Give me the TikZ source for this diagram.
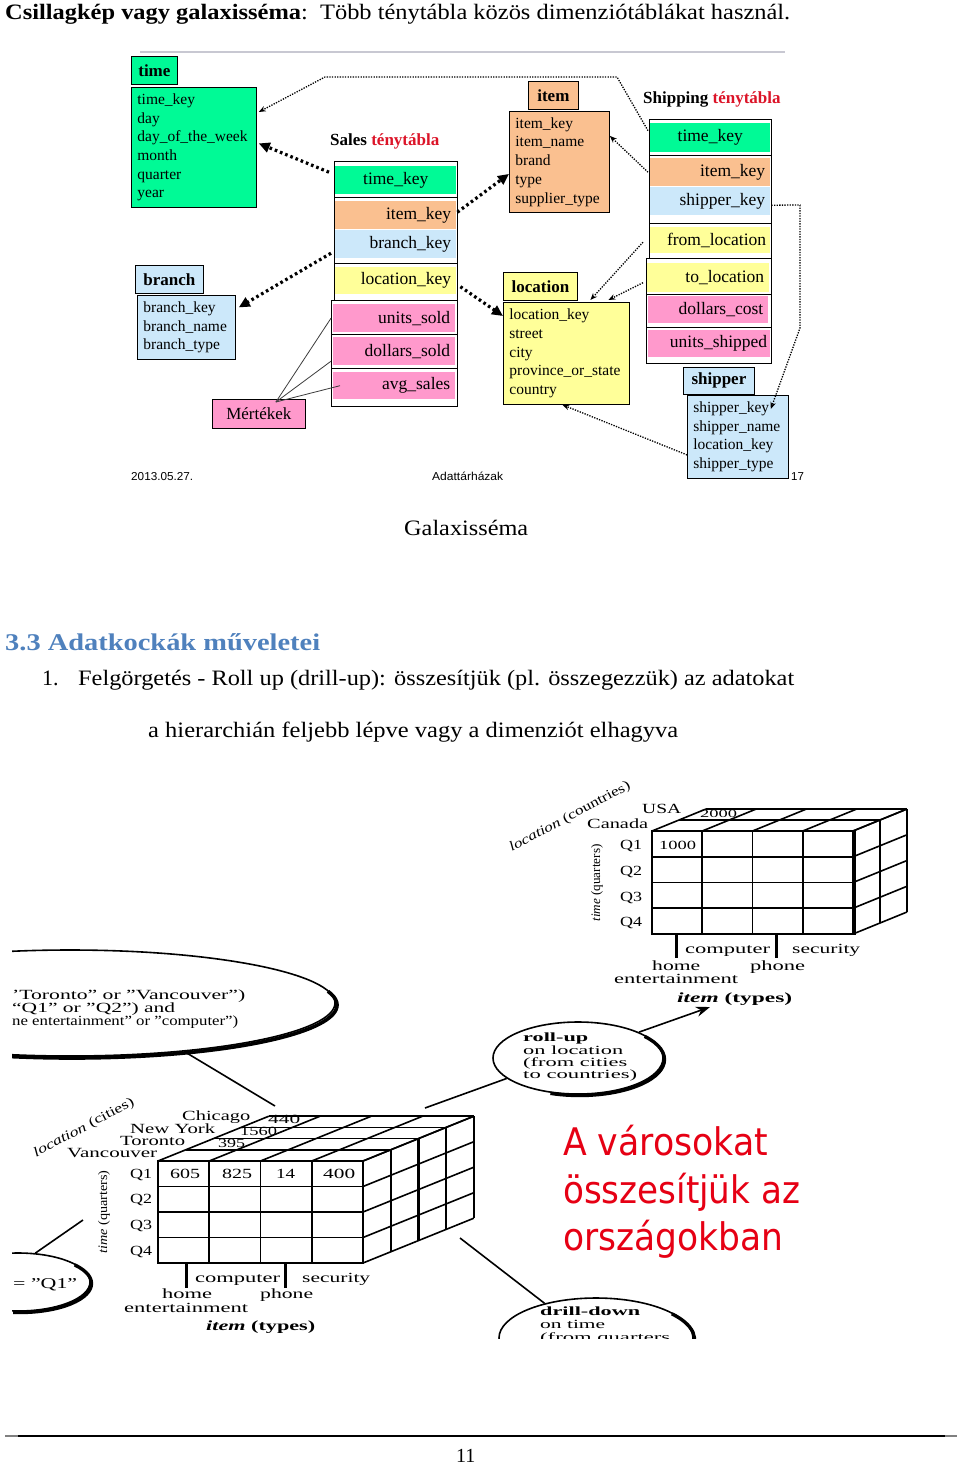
\documentclass[tikz,border=0pt]{standalone}
\usepackage{fontspec}
\usepackage{graphicx}
\usetikzlibrary{arrows.meta,calc,shapes.geometric}
\setmainfont{Liberation Serif}
\newfontfamily\sansf{Liberation Sans}
\newfontfamily\redf{DejaVu Sans}
\newcommand\fitw[2]{\resizebox{#1}{\height}{#2}}
\newcommand\myfs[1]{\fontsize{#1}{#1}\selectfont}
\definecolor{cgreen}{RGB}{0,250,150}
\definecolor{corange}{RGB}{250,192,144}
\definecolor{cblue}{RGB}{204,232,250}
\definecolor{cyellow}{RGB}{255,255,153}
\definecolor{cpink}{RGB}{255,153,204}
\definecolor{tred}{RGB}{220,20,40}
\definecolor{hblue}{RGB}{79,129,189}
\definecolor{bigred}{RGB}{230,0,20}
\definecolor{framegray}{RGB}{200,200,210}
\definecolor{mgray}{RGB}{60,60,60}
\newcommand\cubelbl[5]{\node[cubetx] (#1) at (#2,#3) {\fitw{#4pt}{#5}};}
\tikzset{
 tx/.style={inner sep=0pt, anchor=base west},
 hdr/.style={draw=black, line width=0.8pt, inner sep=0pt, anchor=north west, font=\fontsize{17}{20}\selectfont\bfseries},
 tbl/.style={draw=black, line width=0.8pt, inner xsep=6pt, inner ysep=0pt, anchor=north west, align=left, font=\fontsize{15.5}{18.7}\selectfont},
 rowr/.style={fill=#1, inner xsep=5pt, inner ysep=0pt, anchor=north west, align=right, font=\fontsize{17.5}{20}\selectfont},
 frm/.style={draw=black, line width=0.9pt, fill=white},
 thickdot/.style={line width=3.2pt, dash pattern=on 2.6pt off 3pt, -{Triangle[length=11pt,width=10pt]}},
 thindot/.style={line width=1.3pt, dash pattern=on 1.3pt off 1.3pt, -{Stealth[length=7pt,width=5.5pt]}},
 mline/.style={line width=0.8pt, draw=mgray},
 cl/.style={line width=1.6pt},
 bub/.style={ellipse, draw, line width=1.6pt, inner sep=0pt},
 cubetx/.style={inner sep=0pt, anchor=base west, font=\fontsize{14}{16}\selectfont},
 bubtx/.style={inner sep=0pt, anchor=base west, font=\fontsize{12.5}{14}\selectfont},
}
\begin{document}
\begin{tikzpicture}[x=1pt,y=-1pt]
\useasboundingbox (0,0) rectangle (960,1465);
\fill[white] (0,0) rectangle (960,1465);

% ---------- title line
\node[tx] (title) at (5,19) {\myfs{22}\fitw{785pt}{\textbf{Csillagkép vagy galaxisséma}:\ \ Több ténytábla közös dimenziótáblákat használ.}};

% ---------- schema
\draw[framegray, line width=1.2pt] (140,52) -- (785,52);

% time
\node[hdr, fill=cgreen, minimum width=46pt, minimum height=28pt] (thdr) at (131,56) {time};
\node[tbl, fill=cgreen, minimum width=125pt, minimum height=120pt, text width=113pt] (tbody) at (131,87)
 {time\_key\\day\\day\_of\_the\_week\\month\\quarter\\year};
% branch
\node[hdr, fill=cblue, minimum width=68pt, minimum height=28pt] (bhdr) at (135,265) {branch};
\node[tbl, fill=cblue, minimum width=98pt, minimum height=64pt, text width=86pt] (brbody) at (137,295)
 {branch\_key\\branch\_name\\branch\_type};
% item
\node[hdr, fill=corange, minimum width=50pt, minimum height=28pt] (ihdr) at (528,81) {item};
\node[tbl, fill=corange, minimum width=100pt, minimum height=101pt, text width=88pt] (ibody) at (509,111)
 {item\_key\\item\_name\\brand\\type\\supplier\_type};
% location
\node[hdr, fill=cyellow, minimum width=74pt, minimum height=28pt] (lhdr) at (503,272) {location};
\node[tbl, fill=cyellow, minimum width=126pt, minimum height=102pt, text width=114pt] (lbody) at (503,302)
 {location\_key\\street\\city\\province\_or\_state\\country};
% shipper
\node[hdr, fill=cblue, minimum width=71pt, minimum height=27pt] (shhdr) at (683,367) {shipper};
\node[tbl, fill=cblue, minimum width=101pt, minimum height=83pt, text width=89pt] (shbody) at (687,395)
 {shipper\_key\\shipper\_name\\location\_key\\shipper\_type};

% Sales fact table
\node[tx] (saleslbl) at (330,145) {\fontsize{17}{20}\selectfont\bfseries Sales \textcolor{tred}{ténytábla}};
\draw[frm] (334,161) rectangle (457,197);
\draw[frm] (334,197) rectangle (457,263);
\draw[frm] (334,263) rectangle (457,300);
\draw[frm] (331,300) rectangle (457,334);
\draw[frm] (331,334) rectangle (457,368);
\draw[frm] (331,368) rectangle (457,406);
\node[rowr=cgreen, minimum width=121pt, minimum height=28pt, text width=111pt, align=center] (stime) at (335,166) {time\_key};
\node[rowr=corange, minimum width=121pt, minimum height=28pt, text width=111pt] (sitem) at (335,201) {item\_key};
\node[rowr=cblue, minimum width=121pt, minimum height=28pt, text width=111pt] (sbranch) at (335,230) {branch\_key};
\node[rowr=cyellow, minimum width=121pt, minimum height=27pt, text width=111pt] (sloc) at (335,267) {location\_key};
\node[rowr=cpink, minimum width=122pt, minimum height=28pt, text width=112pt] (sunits) at (333,304) {units\_sold};
\node[rowr=cpink, minimum width=122pt, minimum height=28pt, text width=112pt] (sdollars) at (333,337) {dollars\_sold};
\node[rowr=cpink, minimum width=122pt, minimum height=27pt, text width=112pt] (savg) at (333,372) {avg\_sales};

% Shipping fact table
\node[tx] (shiplbl) at (643,103) {\fontsize{17}{20}\selectfont\bfseries Shipping \textcolor{tred}{ténytábla}};
\draw[frm] (649,119) rectangle (771,155);
\draw[frm] (649,155) rectangle (771,223);
\draw[frm] (649,223) rectangle (771,258);
\draw[frm] (646,258) rectangle (771,294);
\draw[frm] (646,294) rectangle (771,327);
\draw[frm] (646,327) rectangle (771,363);
\node[rowr=cgreen, minimum width=120pt, minimum height=29pt, text width=110pt, align=center] (sptime) at (650,123) {time\_key};
\node[rowr=corange, minimum width=120pt, minimum height=28pt, text width=110pt] (spitem) at (650,158) {item\_key};
\node[rowr=cblue, minimum width=120pt, minimum height=28pt, text width=110pt] (spship) at (650,187) {shipper\_key};
\node[rowr=cyellow, minimum width=120pt, minimum height=26pt, text width=112pt, inner xsep=4pt] (spfrom) at (650,227) {from\_location};
\node[rowr=cyellow, minimum width=122pt, minimum height=29pt, text width=112pt] (spto) at (647,263) {to\_location};
\node[rowr=cpink, minimum width=120pt, minimum height=27pt, text width=110pt] (spcost) at (648,296) {dollars\_cost};
\node[rowr=cpink, minimum width=122pt, minimum height=27pt, text width=116pt, inner xsep=3pt] (spunits) at (648,330) {units\_shipped};

% Mertekek
\node[draw=black, line width=0.8pt, fill=cpink, anchor=north west, minimum width=93pt, minimum height=29pt, inner sep=0pt, font=\fontsize{17}{20}\selectfont] (mert) at (212,399) {Mértékek};
\coordinate (mk) at ($(mert.north)+(17,3)$);
\draw[mline] (mk) -- ($(sunits.west)+(-2,0)$);
\draw[mline] (mk) -- ($(sdollars.west)+(-2,10)$);
\draw[mline] (mk) -- ($(savg.west)+(7,0)$);

% connectors
\coordinate (w1) at (617,77);
\coordinate (w2) at (325,77);
\coordinate (w3) at (800,205);
\coordinate (w4) at (800,328);
\draw[thickdot] ($(stime.west)+(-6,-8)$) -- ($(tbody.east)+(2,-4)$);
\draw[thindot] ($(sptime.west)+(-2,-7)$) -- (w1) -- (w2) -- ($(tbody.north east)+(2,25)$);
\draw[thickdot] ($(sitem.east)+(1,-3)$) -- ($(ibody.west)+(0,12)$);
\draw[thickdot] ($(sbranch.west)+(-4,9)$) -- ($(brbody.east)+(3,-20)$);
\draw[thickdot] ($(sloc.east)+(4,6)$) -- ($(lbody.north west)+(0,14)$);
\draw[thindot] ($(spitem.west)+(-2,0)$) -- ($(ibody.east)+(0,-26)$);
\draw[thindot] ($(spfrom.west)+(-7,2)$) -- ($(lbody.north)+(24,-2)$);
\draw[thindot] ($(spto.west)+(-4,5)$) -- ($(lbody.north)+(42,-2)$);
\draw[thindot] ($(spship.east)+(1,4)$) -- (w3) -- (w4) -- ($(shbody.north east)+(-18,14)$);
\draw[thindot] ($(shbody.west)+(0,18)$) -- ($(lbody.south)+(-4,0)$);

% footer of slide
\node[tx] (date) at (131,480) {\sansf\fontsize{11.5}{13}\selectfont\fitw{62pt}{2013.05.27.}};
\node[tx] (adat) at (432,480) {\sansf\fontsize{11.5}{13}\selectfont\fitw{71pt}{Adattárházak}};
\node[tx] (pg17) at (791,480) {\sansf\fontsize{11.5}{13}\selectfont 17};

% ---------- captions and text
\node[tx] (galax) at (404,535) {\myfs{22}\fitw{124pt}{Galaxisséma}};
\node[tx, text=hblue] (head) at (5,650) {\myfs{24}\fitw{315pt}{\textbf{3.3 Adatkockák műveletei}}};
\node[tx] (num1) at (42,685) {\myfs{22}1.};
\node[tx] (line1) at (78,685) {\myfs{22}\fitw{716pt}{Felgörgetés - Roll up (drill-up): összesítjük (pl. összegezzük) az adatokat}};
\node[tx] (line2) at (148,737) {\myfs{22}\fitw{530pt}{a hierarchián feljebb lépve vagy a dimenziót elhagyva}};

% ---------- cube figure
\begin{scope}
\clip (12,770) rectangle (935,1338);

% upper cube (countries)
\begin{scope}[shift={(652,831)}]
 \foreach \k in {0,1,2} \draw[cl] (27*\k,-11*\k) -- ++(201,0);
 \foreach \i in {0,...,4} \draw[cl] (50.25*\i,0) -- ++(54,-22);
 \foreach \k in {1,2} \draw[cl] (201+27*\k,-11*\k) -- ++(0,103);
 \foreach \j in {0,...,4} \draw[cl] (201,25.75*\j) -- ++(54,-22);
 \foreach \i in {1,2,3} \draw[cl] (50.25*\i,0) -- ++(0,103);
 \foreach \j in {1,2,3} \draw[cl] (0,25.75*\j) -- ++(201,0);
 \draw[line width=2.4pt] (0,0) rectangle (201,103);
 \draw[line width=3.8pt] (202,-1) -- (202,104);
\end{scope}
\draw[line width=3pt] (676,934) -- (676,958);
\draw[line width=3pt] (776,934) -- (776,958);
\cubelbl{tusa}{642}{813}{39}{USA}
\cubelbl{tcan}{587}{828}{61}{Canada}
\node[cubetx, font=\fontsize{11}{12}\selectfont] (t2000) at (700,817) {\fitw{37pt}{2000}};
\cubelbl{tq1}{620}{849}{22}{Q1}
\cubelbl{tq2}{620}{875}{22}{Q2}
\cubelbl{tq3}{620}{901}{22}{Q3}
\cubelbl{tq4}{620}{926}{22}{Q4}
\node[cubetx, font=\fontsize{12.5}{14}\selectfont] (t1000) at (659,849) {\fitw{37pt}{1000}};
\cubelbl{tcomp}{685}{953}{85}{computer}
\cubelbl{tsec}{792}{953}{68}{security}
\cubelbl{thome}{652}{970}{48}{home}
\cubelbl{tphone}{750}{970}{55}{phone}
\cubelbl{tent}{614}{983}{124}{entertainment}
\cubelbl{titem}{677}{1002}{115}{\textbf{\textit{item}} \textbf{(types)}}
\node[rotate=28, inner sep=0pt, font=\fontsize{13.5}{15}\selectfont] (tlocax) at (570,817) {\fitw{135pt}{\textit{location} (countries)}};
\node[rotate=90, inner sep=0pt, font=\fontsize{13}{15}\selectfont] (ttimeax) at (597,883) {\fitw{77pt}{\textit{time} (quarters)}};

% lower cube (cities)
\begin{scope}[shift={(158,1161)}]
 \foreach \k in {0,...,4} \draw[cl] (27.7*\k,-11.2*\k) -- ++(205,0);
 \foreach \i in {0,...,4} \draw[cl] (51.25*\i,0) -- ++(110.8,-44.8);
 \foreach \k in {1,...,4} \draw[cl] (205+27.7*\k,-11.2*\k) -- ++(0,102);
 \foreach \j in {0,...,4} \draw[cl] (205,25.5*\j) -- ++(110.8,-44.8);
 \foreach \i in {1,2,3} \draw[cl] (51.25*\i,0) -- ++(0,102);
 \foreach \j in {1,2,3} \draw[cl] (0,25.5*\j) -- ++(205,0);
 \draw[line width=2.4pt] (0,0) rectangle (205,102);
 \draw[line width=3.4pt] (260.4,-22.4) -- ++(0,102);
\end{scope}
\draw[line width=3pt] (186,1263) -- (186,1288);
\draw[line width=3pt] (285,1263) -- (285,1288);
\cubelbl{bchi}{182}{1120}{68}{Chicago}
\cubelbl{bny}{130}{1133}{85}{New York}
\cubelbl{btor}{120}{1145}{65}{Toronto}
\cubelbl{bvan}{67}{1157}{90}{Vancouver}
\node[cubetx, font=\fontsize{12.5}{14}\selectfont] (b440) at (268,1123) {\fitw{32pt}{440}};
\node[cubetx, font=\fontsize{12.5}{14}\selectfont] (b1560) at (240,1135) {\fitw{37pt}{1560}};
\node[cubetx, font=\fontsize{12.5}{14}\selectfont] (b395) at (218,1147) {\fitw{27pt}{395}};
\cubelbl{bq1}{130}{1178}{22}{Q1}
\cubelbl{bq2}{130}{1203}{22}{Q2}
\cubelbl{bq3}{130}{1229}{22}{Q3}
\cubelbl{bq4}{130}{1255}{22}{Q4}
\cubelbl{b605}{170}{1178}{30}{605}
\cubelbl{b825}{222}{1178}{30}{825}
\cubelbl{b14}{276}{1178}{19}{14}
\cubelbl{b400}{323}{1178}{32}{400}
\cubelbl{bcomp}{195}{1282}{85}{computer}
\cubelbl{bsec}{302}{1282}{68}{security}
\cubelbl{bhome}{162}{1298}{50}{home}
\cubelbl{bphone}{260}{1298}{53}{phone}
\cubelbl{bent}{124}{1312}{124}{entertainment}
\cubelbl{bitem}{206}{1330}{109}{\textbf{\textit{item}} \textbf{(types)}}
\node[rotate=28, inner sep=0pt, font=\fontsize{13.5}{15}\selectfont] (blocax) at (84,1128) {\fitw{112pt}{\textit{location} (cities)}};
\node[rotate=90, inner sep=0pt, font=\fontsize{13}{15}\selectfont] (btimeax) at (104,1212) {\fitw{83pt}{\textit{time} (quarters)}};

% bubbles
\node[bub, minimum width=530pt, minimum height=106pt] (dice) at (70,1003) {};
\draw[line width=3.6pt] (72,1005) ++(-15:265 and 53) arc[start angle=-15, end angle=175, x radius=265, y radius=53];
\node[tx, font=\fontsize{14}{16}\selectfont] (d1) at (12,999) {\fitw{233pt}{'Toronto" or "Vancouver")}};
\node[tx, font=\fontsize{14}{16}\selectfont] (d2) at (12,1012) {\fitw{163pt}{``Q1" or "Q2") and}};
\node[tx, font=\fontsize{14}{16}\selectfont] (d3) at (12,1025) {\fitw{226pt}{ne entertainment" or "computer")}};

\node[bub, minimum width=144pt, minimum height=58pt] (qone) at (18,1282) {};
\draw[line width=3.4pt] (19.5,1283.5) ++(-40:72 and 29) arc[start angle=-40, end angle=95, x radius=72, y radius=29];
\node[tx, font=\fontsize{15}{17}\selectfont] (q1txt) at (13,1288) {\fitw{64pt}{= "Q1"}};

\node[bub, minimum width=170pt, minimum height=72pt] (rollup) at (578,1058) {};
\draw[line width=3.4pt] (579.5,1059.5) ++(-40:85 and 36) arc[start angle=-40, end angle=110, x radius=85, y radius=36];
\node[bubtx] (r1) at (523,1041) {\fitw{65pt}{\textbf{roll-up}}};
\node[bubtx] (r2) at (523,1054) {\fitw{100pt}{on location}};
\node[bubtx] (r3) at (523,1066) {\fitw{104pt}{(from cities}};
\node[bubtx] (r4) at (523,1078) {\fitw{114pt}{to countries)}};

\node[bub, minimum width=194pt, minimum height=80pt] (drill) at (596,1338) {};
\draw[line width=3.4pt] (597.5,1339.5) ++(-40:97 and 40) arc[start angle=-40, end angle=20, x radius=97, y radius=40];
\node[bubtx] (dd1) at (540,1315) {\fitw{100pt}{\textbf{drill-down}}};
\node[bubtx] (dd2) at (540,1328) {\fitw{65pt}{on time}};
\node[bubtx] (dd3) at (540,1341) {\fitw{130pt}{(from quarters}};

% bubble connectors
\coordinate (cubeA) at (275,1106);
\coordinate (cubeB) at (83,1220);
\coordinate (cubeC) at (425,1108);
\coordinate (cubeD) at (460,1238);
\coordinate (cubeT) at (710,1007);
\draw[line width=1.6pt] (dice.-23) -- (cubeA);
\draw[line width=1.6pt] (qone.59) -- (cubeB);
\draw[line width=1.6pt] (cubeC) -- (rollup.196);
\draw[line width=1.6pt, -{Stealth[length=14pt,width=10pt]}] (rollup.23) -- (cubeT);
\draw[line width=1.6pt] (cubeD) -- (drill.146);
\end{scope}

% red explanation
\node[tx, text=bigred] (red1) at (563,1155) {\redf\myfs{38}\fitw{205pt}{A városokat}};
\node[tx, text=bigred] (red2) at (563,1203) {\redf\myfs{38}\fitw{237pt}{összesítjük az}};
\node[tx, text=bigred] (red3) at (563,1250) {\redf\myfs{38}\fitw{220pt}{országokban}};

% ---------- page footer
\draw[line width=1.4pt] (18,1436) -- (945,1436);
\draw[gray, line width=1.2pt] (5,1436) -- (18,1436);
\draw[gray, line width=1.2pt] (945,1436) -- (957,1436);
\node[tx] (pgnum) at (456,1462) {\myfs{20}11};
\end{tikzpicture}
\end{document}
